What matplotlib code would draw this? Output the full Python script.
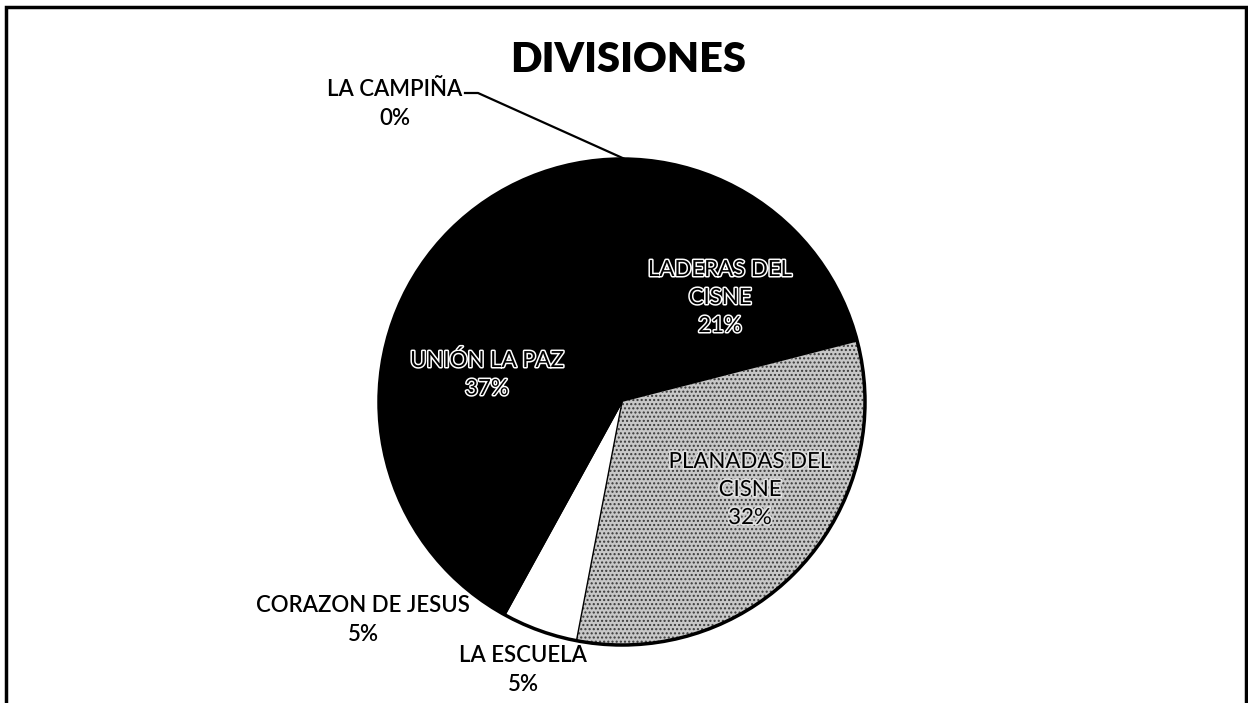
import matplotlib
matplotlib.use("Agg")
import matplotlib.pyplot as plt
import matplotlib.patheffects as pe
from matplotlib.patches import Rectangle, Circle

# Data
categories = ["LA CAMPIÑA", "LADERAS DEL CISNE", "PLANADAS DEL CISNE",
              "LA ESCUELA", "CORAZON DE JESUS", "UNIÓN LA PAZ"]
values = [0, 21, 32, 5, 5, 37]
display_labels = ["LA CAMPIÑA\n0%", "LADERAS DEL\nCISNE\n21%", "PLANADAS DEL\nCISNE\n32%",
                  "LA ESCUELA\n5%", "CORAZON DE JESUS\n5%", "UNIÓN LA PAZ\n37%"]
title = "DIVISIONES"

# Styles
face_colors = ["black", "black", "#c8c8c8", "white", "black", "black"]
hatches = [None, None, "....", None, None, None]

W, H = 1248, 703
fig = plt.figure(figsize=(W / 100, H / 100), dpi=100)
ax = fig.add_axes([0, 0, 1, 1])

FONT = "Lato"

cx, cy, r = 622, H - 402, 243
wedges, _ = ax.pie(values, center=(cx, cy), radius=r, startangle=90,
                   counterclock=False, colors=face_colors, frame=True,
                   wedgeprops=dict(linewidth=1.0, edgecolor="black"))
ax.set_xlim(0, W)
ax.set_ylim(0, H)
ax.set_aspect("equal")
ax.axis("off")
for w, h in zip(wedges, hatches):
    if h:
        w.set_hatch(h)
        w.set_edgecolor("#3a3a3a")
        w.set_linewidth(0)
ax.add_patch(Circle((cx, cy), r, fill=False, lw=2.5, ec="black"))

# Frame
ax.add_patch(Rectangle((6, -10), 1240, H - 7 + 10, fill=False, lw=2.5, ec="black"))

# Title
ax.text(628, H - 60, title, ha="center", va="center", fontsize=30,
        fontweight="heavy", family=FONT)

fs = 16
ls = 1.5
wt = "semibold"
# Outside labels
ax.text(395, H - 104, display_labels[0], ha="center", va="center",
        fontsize=fs, family=FONT, linespacing=ls, fontweight=wt)
ax.plot([465, 478, 627], [H - 93, H - 93, H - 160], color="black", lw=1.6)
ax.text(363, H - 620, display_labels[4], ha="center", va="center",
        fontsize=fs, family=FONT, linespacing=ls, fontweight=wt)
ax.text(523, H - 670, display_labels[3], ha="center", va="center",
        fontsize=fs, family=FONT, linespacing=ls, fontweight=wt)

outline = [pe.withStroke(linewidth=2.2, foreground="white")]
ax.text(720, H - 298, display_labels[1], ha="center", va="center",
        fontsize=fs, family=FONT, linespacing=ls, color="black",
        path_effects=outline)
ax.text(487, H - 375, display_labels[5], ha="center", va="center",
        fontsize=fs, family=FONT, linespacing=ls, color="black",
        path_effects=outline)
ax.text(750, H - 490, display_labels[2], ha="center", va="center",
        fontsize=fs, family=FONT, linespacing=ls, color="black",
        path_effects=[pe.withStroke(linewidth=2.5, foreground="#e0e0e0")])

fig.savefig("out.png", dpi=100)
